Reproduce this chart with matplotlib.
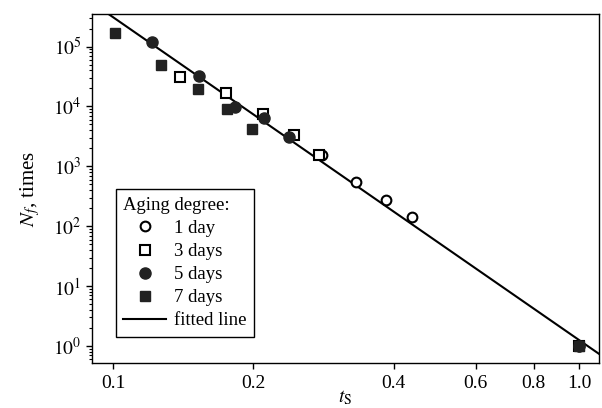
import numpy as np
import matplotlib
matplotlib.use("Agg")
import matplotlib.pyplot as plt
from matplotlib.ticker import FixedLocator, FixedFormatter, NullLocator

plt.rcParams['font.family'] = ['Liberation Serif', 'DejaVu Serif']
plt.rcParams['mathtext.fontset'] = 'stix'

# Data (t_s, N_f)
x1 = [0.281, 0.333, 0.386, 0.4375, 1.0]
y1 = [1550, 541, 279, 144, 1.0]
x3 = [0.139, 0.175, 0.210, 0.244, 0.2767, 1.0]
y3 = [30900, 16700, 7550, 3370, 1570, 1.0]
x5 = [0.1214, 0.153, 0.183, 0.211, 0.239, 1.0]
y5 = [121000, 32500, 9800, 6400, 3090, 1.0]
x7 = [0.101, 0.127, 0.152, 0.176, 0.199, 1.0]
y7 = [167000, 49600, 19500, 9050, 4200, 1.0]

# fitted line N_f = a * t_s^b
fit_a = 1.26
fit_b = -5.39

xticks = [0.1, 0.2, 0.4, 0.6, 0.8, 1.0]
xticklabels = ['0.1', '0.2', '0.4', '0.6', '0.8', '1.0']

fig = plt.figure(figsize=(6.02, 4.08), dpi=100)
ax = fig.add_axes([0.1528, 0.1103, 0.8422, 0.8554])

xl = (0.0901, 1.104)
xf = np.logspace(np.log10(0.09), np.log10(1.11), 50)
ax.plot(xf, fit_a * xf ** fit_b, color='black', lw=1.5, label='fitted line', zorder=2)

ax.plot(x1, y1, 'o', ms=7, mfc='white', mec='black', mew=1.5, ls='none', label='1 day', zorder=3)
ax.plot(x3, y3, 's', ms=6.5, mfc='white', mec='black', mew=1.5, ls='none', label='3 days', zorder=3)
ax.plot(x5, y5, 'o', ms=8, mfc='#222222', mec='#222222', ls='none', label='5 days', zorder=4)
ax.plot(x7, y7, 's', ms=7, mfc='#222222', mec='#222222', ls='none', label='7 days', zorder=4)

ax.set_xscale('log')
ax.set_yscale('log')
ax.set_xlim(*xl)
ax.set_ylim(0.52, 3.5e5)
ax.xaxis.set_major_locator(FixedLocator(xticks))
ax.xaxis.set_major_formatter(FixedFormatter(xticklabels))
ax.xaxis.set_minor_locator(NullLocator())
ax.set_yticks([1, 10, 100, 1e3, 1e4, 1e5])
ax.set_yticklabels([r'$10^{%d}$' % i for i in range(6)])

ax.tick_params(axis='both', which='major', direction='out', length=4, width=1, labelsize=14)
ax.tick_params(axis='x', which='major', pad=5)
ax.tick_params(axis='y', which='minor', direction='out', length=2.5, width=0.8)
for s in ax.spines.values():
    s.set_linewidth(1.0)

ax.set_ylabel(r'$N_f$, times', fontsize=15, labelpad=8)
ax.set_xlabel(r'$t_{\mathrm{S}}$', fontsize=14, labelpad=-3)

handles, labels = ax.get_legend_handles_labels()
order = [1, 2, 3, 4, 0]
leg = ax.legend([handles[i] for i in order], [labels[i] for i in order],
                title='Aging degree:', loc='lower left', bbox_to_anchor=(0.047, 0.0745),
                borderaxespad=0, fontsize=13.5, title_fontsize=13.5, fancybox=False,
                edgecolor='black', framealpha=1, handlelength=2.3, handletextpad=0.4,
                labelspacing=0.32, borderpad=0.4)
leg.get_frame().set_linewidth(1.0)
leg._legend_box.align = 'left'

fig.savefig('out.png', dpi=100)
